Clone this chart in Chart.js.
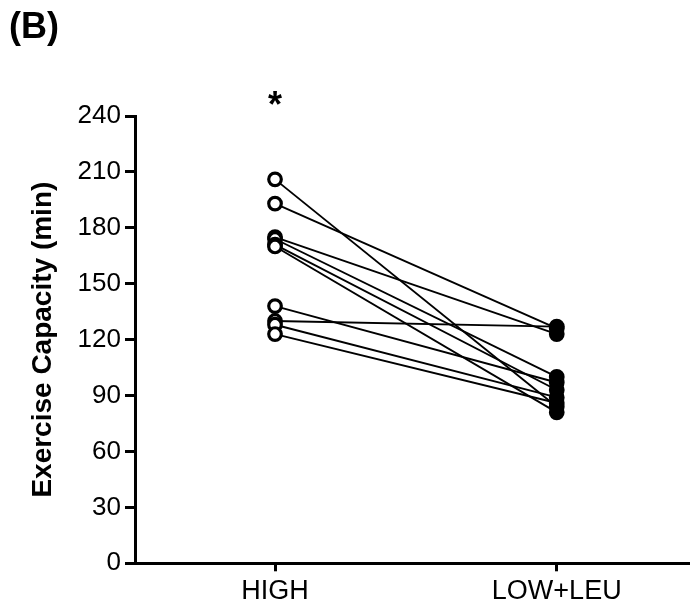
<!DOCTYPE html>
<html>
<head>
<meta charset="utf-8">
<script src="https://cdn.jsdelivr.net/npm/chart.js@4.4.1/dist/chart.umd.min.js"></script>
<style>
  html, body { margin: 0; padding: 0; background: #fff; }
  #wrap { width: 690px; height: 608px; position: relative; }
</style>
</head>
<body>
<div id="wrap"><canvas id="chart" width="690" height="608"></canvas></div>
<script>
// Conditions on the x axis
const categories = ['HIGH', 'LOW+LEU'];
// Exercise capacity (min) per participant, paired by index
const highValues   = [206, 193, 175, 174, 171, 170, 138, 130, 128, 123];
const lowLeuValues = [ 84, 126, 123, 100,  93,  81,  97, 127,  89,  86];
// Y axis ticks
const yTicks = [0, 30, 60, 90, 120, 150, 180, 210, 240];
const panelLabel = '(B)';
const sigMark = '*';

const FONT = "'Liberation Sans', Arial, Helvetica, sans-serif";

// One line per participant linking the two conditions
const pairLines = highValues.map((h, i) => ({
  type: 'line',
  data: [{ x: 0, y: h }, { x: 1, y: lowLeuValues[i] }],
  borderColor: '#000',
  borderWidth: 1.9,
  pointRadius: 0,
  fill: false,
  order: 10
}));

// Markers: open circles for HIGH, filled for LOW+LEU (drawn above the lines)
const markerSets = [
  {
    type: 'scatter',
    data: highValues.map(v => ({ x: 0, y: v })),
    pointRadius: 6.3,
    pointBorderWidth: 3.2,
    pointBorderColor: '#000',
    pointBackgroundColor: '#fff',
    order: 1
  },
  {
    type: 'scatter',
    data: lowLeuValues.map(v => ({ x: 1, y: v })),
    pointRadius: 6.3,
    pointBorderWidth: 3.2,
    pointBorderColor: '#000',
    pointBackgroundColor: '#000',
    order: 1
  }
];

// Panel letter and significance marker
const annotations = {
  id: 'annotations',
  afterDraw(chart) {
    const ctx = chart.ctx;
    const xs = chart.scales.x, ys = chart.scales.y;
    ctx.save();
    ctx.fillStyle = '#000';
    ctx.font = 'bold 36px ' + FONT;
    ctx.textAlign = 'left';
    ctx.textBaseline = 'alphabetic';
    ctx.fillText(panelLabel, 9, 38);
    ctx.font = 'bold 36px ' + FONT;
    ctx.textAlign = 'center';
    ctx.fillText(sigMark, xs.getPixelForValue(0), ys.getPixelForValue(240) + 1);
    ctx.restore();
  }
};

new Chart(document.getElementById('chart'), {
  data: { datasets: [...markerSets, ...pairLines] },
  options: {
    responsive: false,
    animation: false,
    events: [],
    layout: { autoPadding: false, padding: { top: 116, right: 0, bottom: 0, left: 0 } },
    plugins: { legend: { display: false }, tooltip: { enabled: false } },
    scales: {
      x: {
        type: 'linear',
        min: -0.497,
        max: 1.473,
        afterBuildTicks(scale) { scale.ticks = categories.map((_, i) => ({ value: i })); },
        afterFit(scale) { scale.height = 44.7; scale.paddingRight = 0; scale.paddingLeft = 0; },
        grid: { drawOnChartArea: false, drawTicks: true, tickLength: 8, tickWidth: 3, tickColor: '#000' },
        border: { display: true, color: '#000', width: 3 },
        ticks: {
          color: '#000',
          padding: 4,
          maxRotation: 0,
          font: { family: FONT, size: 27 },
          callback: v => categories[v] ?? ''
        }
      },
      y: {
        type: 'linear',
        min: 0,
        max: 240,
        afterBuildTicks(scale) { scale.ticks = yTicks.map(v => ({ value: v })); },
        afterFit(scale) { scale.width = 135; },
        grid: { drawOnChartArea: false, drawTicks: true, tickLength: 10, tickWidth: 3, tickColor: '#000' },
        border: { display: true, color: '#000', width: 3 },
        ticks: {
          color: '#000',
          padding: 4,
          font: { family: FONT, size: 26 }
        },
        title: {
          display: true,
          text: 'Exercise Capacity (min)',
          color: '#000',
          font: { family: FONT, size: 28, weight: 'bold' },
          padding: { top: 26, bottom: 0 }
        }
      }
    }
  },
  plugins: [annotations]
});
</script>
</body>
</html>
